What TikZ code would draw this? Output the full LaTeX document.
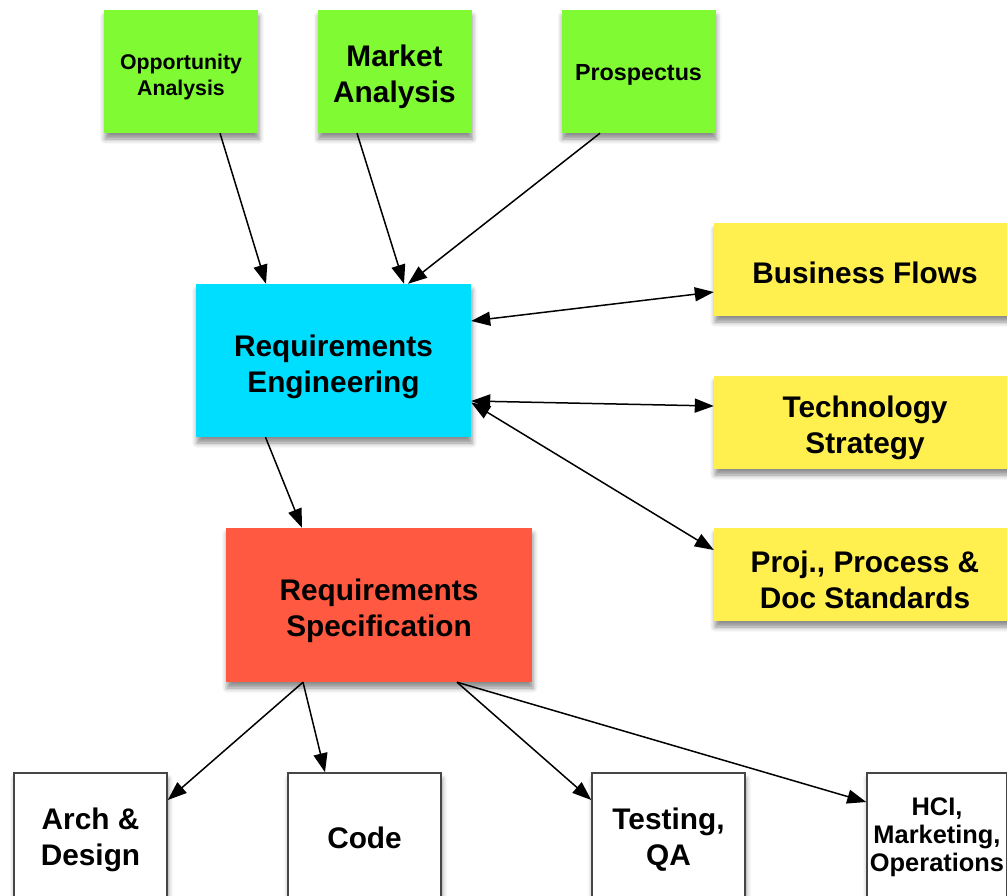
\documentclass[tikz,border=0pt]{standalone}
\usepackage{fontspec}
\setmainfont{Liberation Sans}
\usetikzlibrary{arrows.meta,shadows.blur}
\definecolor{oppgreen}{RGB}{128,250,50}
\definecolor{reqcyan}{RGB}{0,222,255}
\definecolor{specred}{RGB}{255,90,65}
\definecolor{stdyellow}{RGB}{255,240,80}
\definecolor{edgegray}{RGB}{70,70,70}
\begin{document}
\begin{tikzpicture}[x=1pt,y=-1pt,
                box/.style={rectangle,inner sep=0pt,
                    blur shadow={shadow xshift=1pt,shadow yshift=-6pt,shadow blur radius=5pt,shadow opacity=45}},
                txt/.style={align=center,inner sep=0pt,yshift=-5pt,
                    font=\bfseries\fontsize{29.8}{36}\selectfont},
                small/.style={font=\bfseries\fontsize{21.3}{26}\selectfont},
                topbox/.style={box,fill=oppgreen,minimum width=154pt,minimum height=123pt},
                sidebox/.style={box,fill=stdyellow,minimum width=302pt,minimum height=93pt},
                outbox/.style={box,fill=white,draw=edgegray,line width=1.5pt,minimum width=153pt,minimum height=128pt},
                link/.style={line width=1.5pt,-{Triangle[length=19pt,width=14pt]}},
                both/.style={line width=1.5pt,{Triangle[length=19pt,width=14pt]}-{Triangle[length=19pt,width=14pt]}}]
                \path[use as bounding box] (0,0) rectangle (1007,895);
                \clip (0,0) rectangle (1007,895);
                % inputs
                \node[topbox,label={[txt,small]center:{Opportunity\\Analysis}}] (opp) at (181,71.5) {};
                \node[topbox,label={[txt]center:{Market\\Analysis}}] (mkt) at (394.5,71.5) {};
                \node[topbox,label={[txt,yshift=2pt,font=\bfseries\fontsize{23.3}{28}\selectfont]center:Prospectus}] (pro) at (638.5,71.5) {};
                % centre
                \node[box,fill=reqcyan,minimum width=275pt,minimum height=153pt,
                    label={[txt,yshift=-1pt]center:{Requirements\\Engineering}}] (re) at (333.5,360.5) {};
                \node[box,fill=specred,minimum width=306pt,minimum height=154pt,
                    label={[txt,yshift=-1pt]center:{Requirements\\Specification}}] (rs) at (379,605) {};
                % standards
                \node[sidebox,label={[txt,yshift=2pt]center:Business Flows}] (bf) at (865,269.5) {};
                \node[sidebox,label={[txt]center:{Technology\\Strategy}}] (tech) at (865,422.5) {};
                \node[sidebox,label={[txt]center:{Proj., Process \&\\Doc Standards}}] (proj) at (865,574.5) {};
                % outputs
                \node[outbox,label={[txt,yshift=2pt]center:{Arch \&\\Design}}] (arch) at (90.5,837) {};
                \node[outbox,label={[txt,yshift=4pt]center:Code}] (code) at (364.5,837) {};
                \node[outbox,label={[txt,yshift=2pt]center:{Testing,\\QA}}] (test) at (668.5,837) {};
                \node[outbox,minimum width=140pt,label={[txt,yshift=5pt,font=\bfseries\fontsize{25.4}{28}\selectfont]center:{HCI,\\Marketing,\\Operations}}] (hci) at (937,837) {};
                % connectors
                \draw[link] ([xshift=39pt]opp.south) -- ([xshift=-67.5pt]re.north);
                \draw[link] ([xshift=-37.5pt]mkt.south) -- ([xshift=70.5pt]re.north);
                \draw[link] ([xshift=-38.5pt]pro.south) -- ([xshift=74.5pt]re.north);
                \draw[both] ([yshift=39.5pt]re.east) -- ([yshift=-22.5pt]bf.west);
                \draw[both] ([yshift=-40.5pt]re.east) -- ([yshift=16.5pt]tech.west);
                \draw[both] ([yshift=-42pt]re.east) -- ([yshift=24.5pt]proj.west);
                \draw[link] ([xshift=-68pt]re.south) -- ([xshift=-77pt]rs.north);
                \draw[link] ([xshift=-76pt]rs.south) -- ([yshift=37pt]arch.east);
                \draw[link] ([xshift=-76pt]rs.south) -- ([xshift=-39.5pt]code.north);
                \draw[link] ([xshift=78pt]rs.south) -- ([yshift=37pt]test.west);
                \draw[link] ([xshift=78pt]rs.south) -- ([yshift=35pt]hci.west);
\end{tikzpicture}
\end{document}
